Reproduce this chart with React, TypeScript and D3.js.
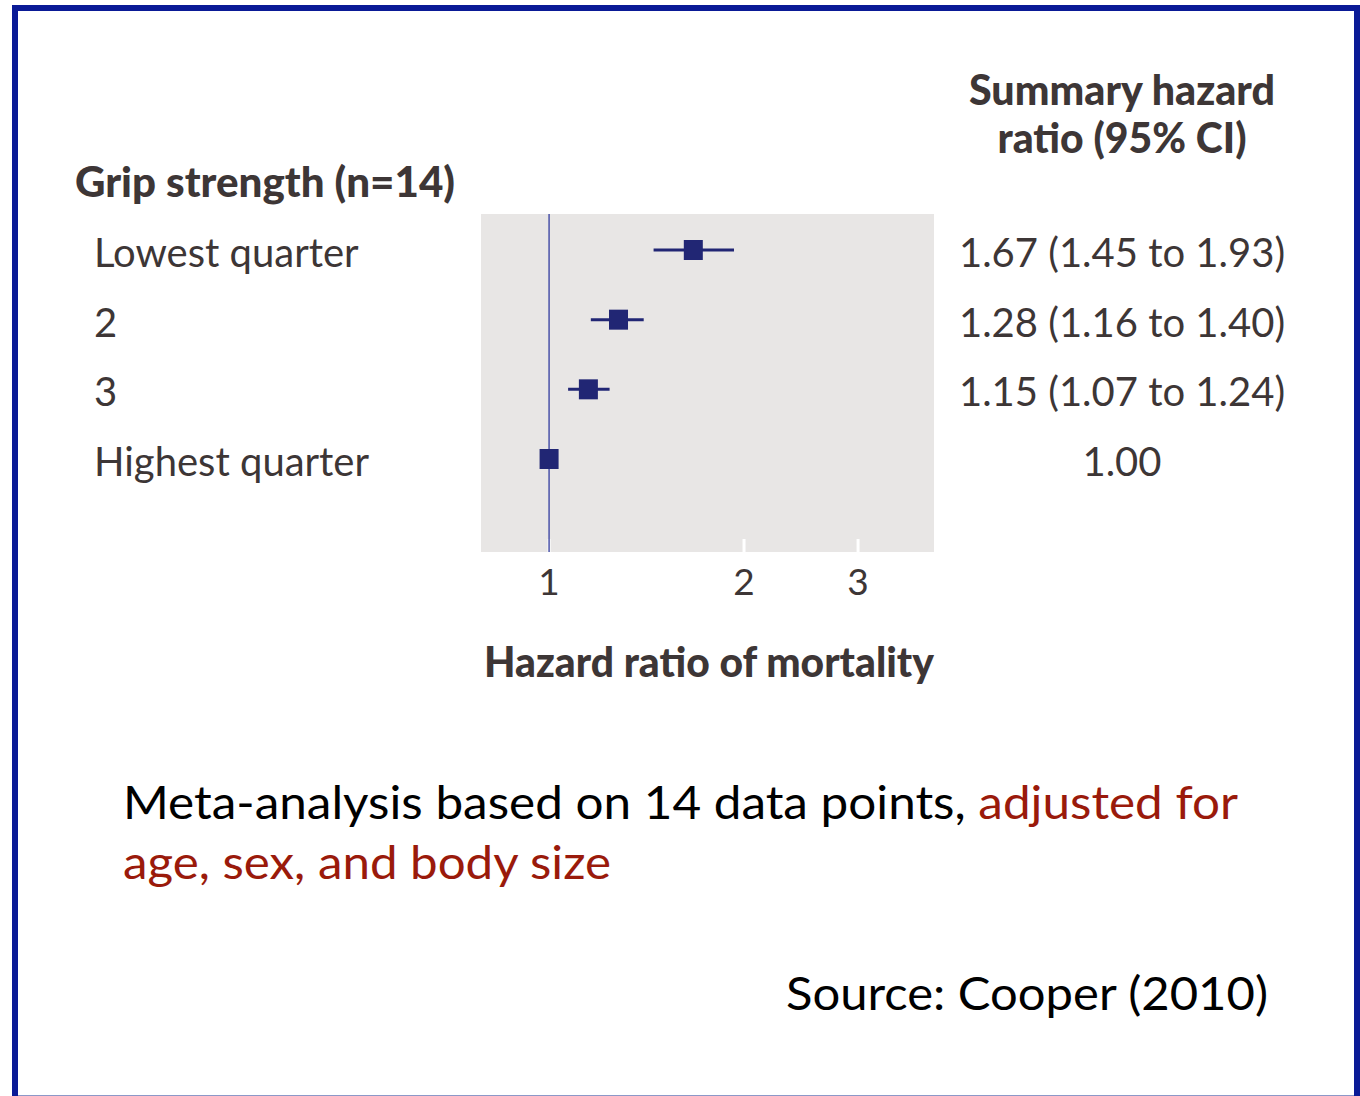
import React from "react";
import * as d3 from "d3";

const categories = ["Lowest quarter", "2", "3", "Highest quarter"];
const hazardRatios = [1.67, 1.28, 1.15, 1.0];
const ciLower = [1.45, 1.16, 1.07, null];
const ciUpper = [1.93, 1.4, 1.24, null];
const ciLabels = ["1.67 (1.45 to 1.93)", "1.28 (1.16 to 1.40)", "1.15 (1.07 to 1.24)", "1.00"];
const xTicks = [1, 2, 3];

const W = 1360;
const H = 1096;
const TEXT = "#3d3636";
const NAVY = "#212674";
const RED = "#9a1a0b";
const FONT = "Lato, 'Noto Sans', sans-serif";
const BODY_FONT = "Lato, 'Open Sans', sans-serif";

export default function App() {
  const plot = { x0: 481, x1: 934, y0: 214, y1: 552 };
  const x = d3.scaleLog().domain([0.785, 3.93]).range([plot.x0, plot.x1]);
  const y = d3.scalePoint<string>().domain(categories).range([250, 459]);
  const sq = { w: 19, h: 20 };

  return (
    <div style={{ position: "absolute", left: 0, top: 0 }}>
      <svg width={W} height={H} style={{ display: "block" }}>
        <rect x={0} y={0} width={W} height={H} fill="#fff" />
        {/* frame */}
        <rect x={15} y={8} width={1342} height={1094} fill="none" stroke="#0a1a96" strokeWidth={6} />
        <line x1={18} x2={1354} y1={1095.5} y2={1095.5} stroke="#8c98c8" strokeWidth={1} />

        {/* column headers */}
        <text x={75} y={197} fontFamily={FONT} fontWeight={900} fontSize={42} fill={TEXT}
          textLength={380} lengthAdjust="spacingAndGlyphs">Grip strength (n=14)</text>
        <text x={1122} y={105} fontFamily={FONT} fontWeight={900} fontSize={42} fill={TEXT}
          textAnchor="middle" textLength={306} lengthAdjust="spacingAndGlyphs">Summary hazard</text>
        <text x={1122} y={153} fontFamily={FONT} fontWeight={900} fontSize={42} fill={TEXT}
          textAnchor="middle" textLength={249} lengthAdjust="spacingAndGlyphs">ratio (95% CI)</text>

        {/* plot background */}
        <rect x={plot.x0} y={plot.y0} width={plot.x1 - plot.x0} height={plot.y1 - plot.y0} fill="#e8e6e5" />

        {/* ticks */}
        {xTicks.map((t) => (
          <g key={t}>
            <line x1={x(t)} x2={x(t)} y1={plot.y1 - 13} y2={plot.y1} stroke="#fff" strokeWidth={3} />
            <text x={x(t)} y={595} textAnchor="middle" fontFamily={FONT} fontSize={37} fill={TEXT}>{t}</text>
          </g>
        ))}

        {/* reference line */}
        <line x1={x(1)} x2={x(1)} y1={plot.y0} y2={plot.y1} stroke="#4a52a8" strokeWidth={1.5} />

        {/* CI lines and squares */}
        {categories.map((c, i) => {
          const cy = y(c) as number;
          const lo = ciLower[i];
          const hi = ciUpper[i];
          return (
            <g key={c}>
              {lo != null && hi != null && (
                <line x1={x(lo)} x2={x(hi)} y1={cy} y2={cy} stroke={NAVY} strokeWidth={3} />
              )}
              <rect x={x(hazardRatios[i]) - sq.w / 2} y={cy - sq.h / 2} width={sq.w} height={sq.h} fill={NAVY} />
              <text x={94} y={cy + 17} fontFamily={FONT} fontSize={40} fill={TEXT}>{c}</text>
              <text x={1122} y={cy + 17} textAnchor="middle" fontFamily={FONT} fontSize={40} fill={TEXT}>{ciLabels[i]}</text>
            </g>
          );
        })}

        {/* axis title */}
        <text x={709} y={677} textAnchor="middle" fontFamily={FONT} fontWeight={900} fontSize={42} fill={TEXT}
          textLength={450} lengthAdjust="spacingAndGlyphs">Hazard ratio of mortality</text>

        {/* caption */}
        <text x={123} y={819} fontFamily={BODY_FONT} fontSize={46} fill="#000"
          textLength={1115} lengthAdjust="spacingAndGlyphs">
          Meta-analysis based on 14 data points, <tspan fill={RED}>adjusted for</tspan>
        </text>
        <text x={123} y={879} fontFamily={BODY_FONT} fontSize={46} fill={RED}
          textLength={488} lengthAdjust="spacingAndGlyphs">age, sex, and body size</text>
        <text x={786} y={1010} fontFamily={BODY_FONT} fontSize={46} fill="#000"
          textLength={482} lengthAdjust="spacingAndGlyphs">Source: Cooper (2010)</text>
      </svg>
    </div>
  );
}
